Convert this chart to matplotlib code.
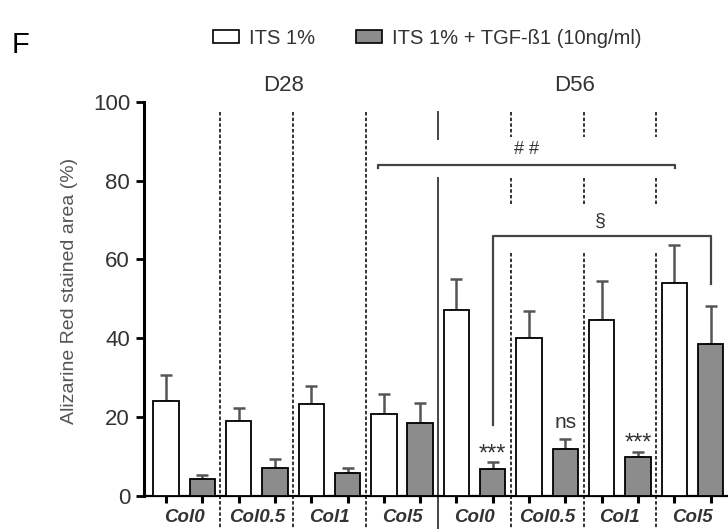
import numpy as np
import matplotlib
matplotlib.use('Agg')
import matplotlib.pyplot as plt
from matplotlib.patches import Patch

plt.rcParams['font.family'] = ['Liberation Sans', 'DejaVu Sans']

# data
groups = ['Col0', 'Col0.5', 'Col1', 'Col5', 'Col0', 'Col0.5', 'Col1', 'Col5']
days = ['D28', 'D56']
its_mean = [24.0, 18.9, 23.2, 20.7, 47.2, 40.0, 44.7, 53.9]
its_err = [6.6, 3.3, 4.6, 5.2, 7.8, 6.8, 9.7, 9.8]
tgf_mean = [4.2, 7.1, 5.8, 18.5, 6.7, 11.8, 9.7, 38.6]
tgf_err = [0.9, 2.3, 1.1, 4.9, 1.7, 2.5, 1.3, 9.5]
marks = {9: '***', 11: 'ns', 13: '***'}

dark = '#333333'
gray_fill = '#8c8c8c'

fig = plt.figure(figsize=(7.28, 5.29), dpi=100)
ax = fig.add_axes([144/728, 33.5/529, (728-144)/728, 393.5/529])

x_its = np.arange(len(groups)) * 2
x_tgf = x_its + 1
w = 0.7

ax.errorbar(x_its, its_mean, yerr=[np.zeros(8), its_err], fmt='none', ecolor='#555555',
            elinewidth=1.8, capsize=4, capthick=1.8, zorder=2)
ax.errorbar(x_tgf, tgf_mean, yerr=[np.zeros(8), tgf_err], fmt='none', ecolor='#555555',
            elinewidth=1.8, capsize=4, capthick=1.8, zorder=2)
ax.bar(x_its, its_mean, w, color='white', edgecolor='black', linewidth=1.3, zorder=3)
ax.bar(x_tgf, tgf_mean, w, color=gray_fill, edgecolor='black', linewidth=1.3, zorder=3)

ax.set_xlim(-0.606, 15.48)
ax.set_ylim(0, 100)

# separators between groups
ls = (0, (1.8, 1.1))
for xs in [1.5, 3.5, 5.5]:
    ax.plot([xs, xs], [97.5, -8.5], color=dark, lw=1.4, ls=ls, clip_on=False, zorder=1)
for seg in [(97.5, 90.6), (80.7, -8.5)]:
    ax.plot([7.5, 7.5], seg, color='#444444', lw=1.4, clip_on=False, zorder=1)
for xs in [9.5, 11.5, 13.5]:
    for seg in [(97.5, 91.0), (80.6, 74.1), (61.7, -8.5)]:
        ax.plot([xs, xs], seg, color=dark, lw=1.4, ls=ls, clip_on=False, zorder=1)

# ## bracket
ax.plot([5.83, 5.83, 14.02, 14.02], [83.3, 84.0, 84.0, 83.3], color='#444444', lw=1.6,
        clip_on=False)
ax.text(9.94, 88.0, '# #', ha='center', va='center', fontsize=13, color=dark)
# § bracket
ax.plot([9.0, 9.0, 15.0, 15.0], [17.9, 66.0, 66.0, 53.8], color='#444444', lw=1.6,
        clip_on=False)
ax.text(11.96, 69.8, '§', ha='center', va='center', fontsize=14, color=dark)

mark_y = {9: 7.6, 11: 16.2, 13: 10.4}
for i, t in marks.items():
    if t == 'ns':
        ax.text(i, mark_y[i], t, ha='center', va='bottom', fontsize=15, color=dark)
    else:
        ax.text(i, mark_y[i], t, ha='center', va='bottom', fontsize=17, color=dark)

for xd, d in zip([3.25, 11.25], days):
    ax.text(xd, 104.3, d, ha='center', va='center', fontsize=16, color=dark, clip_on=False)

# axes styling
for s in ['top', 'right']:
    ax.spines[s].set_visible(False)
ax.spines['left'].set_linewidth(2.2)
ax.spines['bottom'].set_linewidth(1.6)
ax.set_yticks([0, 20, 40, 60, 80, 100])
ax.tick_params(axis='y', length=6, width=2, labelsize=16, labelcolor=dark, pad=4)
ax.set_xticks(np.arange(16))
ax.set_xticklabels([])
ax.tick_params(axis='x', which='major', length=5, width=2.2)
ax.set_xticks((x_its + x_tgf) / 2, minor=True)
ax.set_xticklabels(groups, minor=True, fontsize=13.5, fontweight='bold', fontstyle='italic',
                   color=dark)
ax.tick_params(axis='x', which='minor', length=0, pad=10)

ax.set_ylabel('Alizarine Red stained area (%)', fontsize=14, color='#555555')
ax.yaxis.set_label_coords(-0.113, 0.52)

handles = [Patch(facecolor='white', edgecolor='black', linewidth=1.2, label='ITS 1%'),
           Patch(facecolor=gray_fill, edgecolor='black', linewidth=1.2,
                 label='ITS 1% + TGF-ß1 (10ng/ml)')]
leg = fig.legend(handles=handles, loc='center left', bbox_to_anchor=(0.268, 0.928),
                 ncol=2, frameon=False, fontsize=14.5, handlelength=1.3, handleheight=0.55,
                 handletextpad=0.5, columnspacing=2.0)
for t in leg.get_texts():
    t.set_color(dark)

fig.text(21/728, 1 - 45/529, 'F', ha='center', va='center', fontsize=21, color='black')

fig.savefig('out.png', dpi=100)
